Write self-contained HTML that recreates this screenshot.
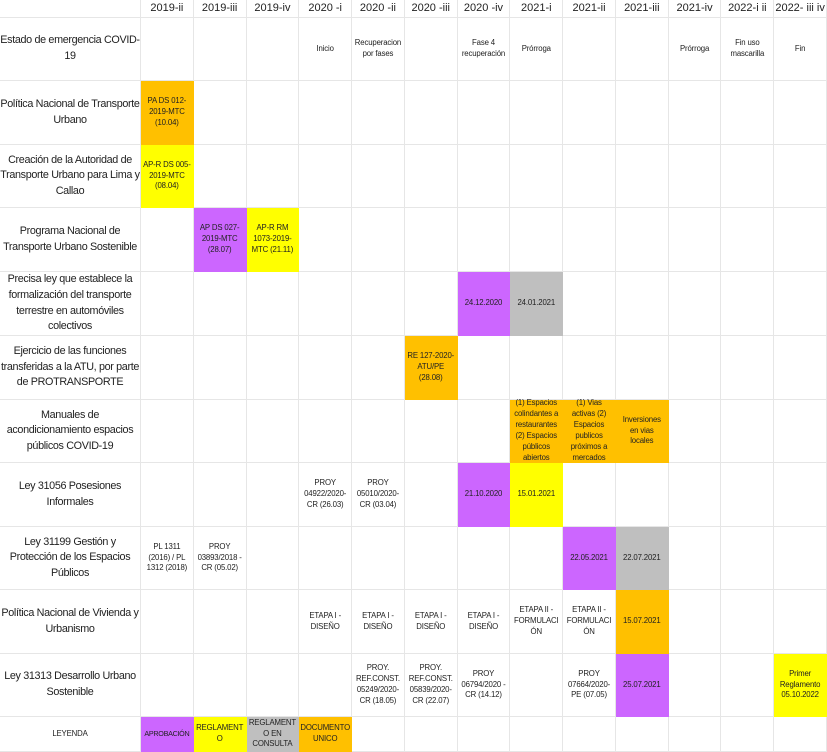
<!DOCTYPE html>
<html><head><meta charset="utf-8">
<style>
body{margin:0;width:827px;height:752px;background:#fff;overflow:hidden;font-family:"Liberation Sans",Arial,sans-serif;color:#222}
#grid{position:relative;width:827px;height:752px}
.c{position:absolute;box-sizing:border-box;display:flex;align-items:center;justify-content:center;text-align:center;border-right:1px solid #e6e6e6;border-bottom:1px solid #e6e6e6;line-height:1.3}
.h{font-size:11px}
.l{font-size:10.8px;line-height:1.45;padding:0;letter-spacing:-0.35px}
.s{font-size:7.8px;line-height:1.4;padding:0 1px;overflow-wrap:anywhere;letter-spacing:-0.15px}
</style></head><body>
<div id="grid"></div>
<script>
const headers=["2019-ii","2019-iii","2019-iv","2020 -i","2020 -ii","2020 -iii","2020 -iv","2021-i","2021-ii","2021-iii","2021-iv","2022-i ii","2022- iii iv"];
const rowLabels=["Estado de emergencia COVID-19","Política Nacional de Transporte Urbano","Creación de la Autoridad de Transporte Urbano para Lima y Callao","Programa Nacional de Transporte Urbano Sostenible","Precisa ley que establece la formalización del transporte terrestre en automóviles colectivos","Ejercicio de las funciones transferidas a la ATU, por parte de PROTRANSPORTE","Manuales de acondicionamiento espacios públicos COVID-19","Ley 31056 Posesiones Informales","Ley 31199 Gestión y Protección de los Espacios Públicos","Política Nacional de Vivienda y Urbanismo","Ley 31313 Desarrollo Urbano Sostenible","LEYENDA"];
const P="#cc66ff",Y="#ffff00",O="#ffc000",G="#bfbfbf";
// [row, col, text, color]
const cells=[
[0,3,"Inicio",""],[0,4,"Recuperacion por fases",""],[0,6,"Fase 4 recuperación",""],[0,7,"Prórroga",""],[0,10,"Prórroga",""],[0,11,"Fin uso mascarilla",""],[0,12,"Fin",""],
[1,0,"PA DS 012-2019-MTC (10.04)",O],
[2,0,"AP-R DS 005-2019-MTC (08.04)",Y],
[3,1,"AP DS 027-2019-MTC (28.07)",P],[3,2,"AP-R RM 1073-2019-MTC (21.11)",Y],
[4,6,"24.12.2020",P],[4,7,"24.01.2021",G],
[5,5,"RE 127-2020-ATU/PE (28.08)",O],
[6,7,"(1) Espacios colindantes a restaurantes (2) Espacios públicos abiertos",O],[6,8,"(1) Vias activas (2) Espacios publicos próximos a mercados",O],[6,9,"Inversiones en vias locales",O],
[7,3,"PROY 04922/2020-CR (26.03)",""],[7,4,"PROY 05010/2020-CR (03.04)",""],[7,6,"21.10.2020",P],[7,7,"15.01.2021",Y],
[8,0,"PL 1311 (2016) / PL 1312 (2018)",""],[8,1,"PROY 03893/2018 - CR (05.02)",""],[8,8,"22.05.2021",P],[8,9,"22.07.2021",G],
[9,3,"ETAPA I - DISEÑO",""],[9,4,"ETAPA I - DISEÑO",""],[9,5,"ETAPA I - DISEÑO",""],[9,6,"ETAPA I - DISEÑO",""],[9,7,"ETAPA II - FORMULACIÓN",""],[9,8,"ETAPA II - FORMULACIÓN",""],[9,9,"15.07.2021",O],
[10,4,"PROY. REF.CONST. 05249/2020-CR (18.05)",""],[10,5,"PROY. REF.CONST. 05839/2020-CR (22.07)",""],[10,6,"PROY 06794/2020 -CR (14.12)",""],[10,8,"PROY 07664/2020-PE (07.05)",""],[10,9,"25.07.2021",P],[10,12,"Primer Reglamento 05.10.2022",Y],
[11,0,"APROBACIÓN",P],[11,1,"REGLAMENTO",Y],[11,2,"REGLAMENTO EN CONSULTA",G],[11,3,"DOCUMENTO UNICO",O]
];
const rowTops=[18,81,145,208,272,336,400,463,527,590,654,717,752];
const g=document.getElementById('grid');
const X0=141,CW=(827-141)/13;
function colX(i){return X0+i*CW;}
function mk(x,y,w,h,cls,txt,bg){const d=document.createElement('div');d.className='c '+cls;d.style.left=x+'px';d.style.top=y+'px';d.style.width=w+'px';d.style.height=h+'px';if(bg)d.style.background=bg;d.textContent=txt;g.appendChild(d);return d;}
let e=mk(0,0,X0,18,'h','','');


headers.forEach((t,i)=>{const d=mk(colX(i),0,CW,18,'h',t,'');

});
rowLabels.forEach((t,r)=>{const y=rowTops[r],h=rowTops[r+1]-y;
const d=mk(0,y,X0,h,r==11?'s':'l',t,'');


for(let c=0;c<13;c++){const k=mk(colX(c),y,CW,h,'s','','');

}});
cells.forEach(([r,c,t,bg])=>{const y=rowTops[r],h=rowTops[r+1]-y;
const d=mk(colX(c),y,CW,h,'s',t,bg);
if(bg)d.style.borderColor=bg;
if(t==="APROBACIÓN"){d.style.fontSize='7.2px';d.style.letterSpacing='-0.3px';d.style.overflowWrap='normal';}
if(t==="Inversiones en vias locales"){d.style.padding='0 5px';}

});
</script>
</body></html>
